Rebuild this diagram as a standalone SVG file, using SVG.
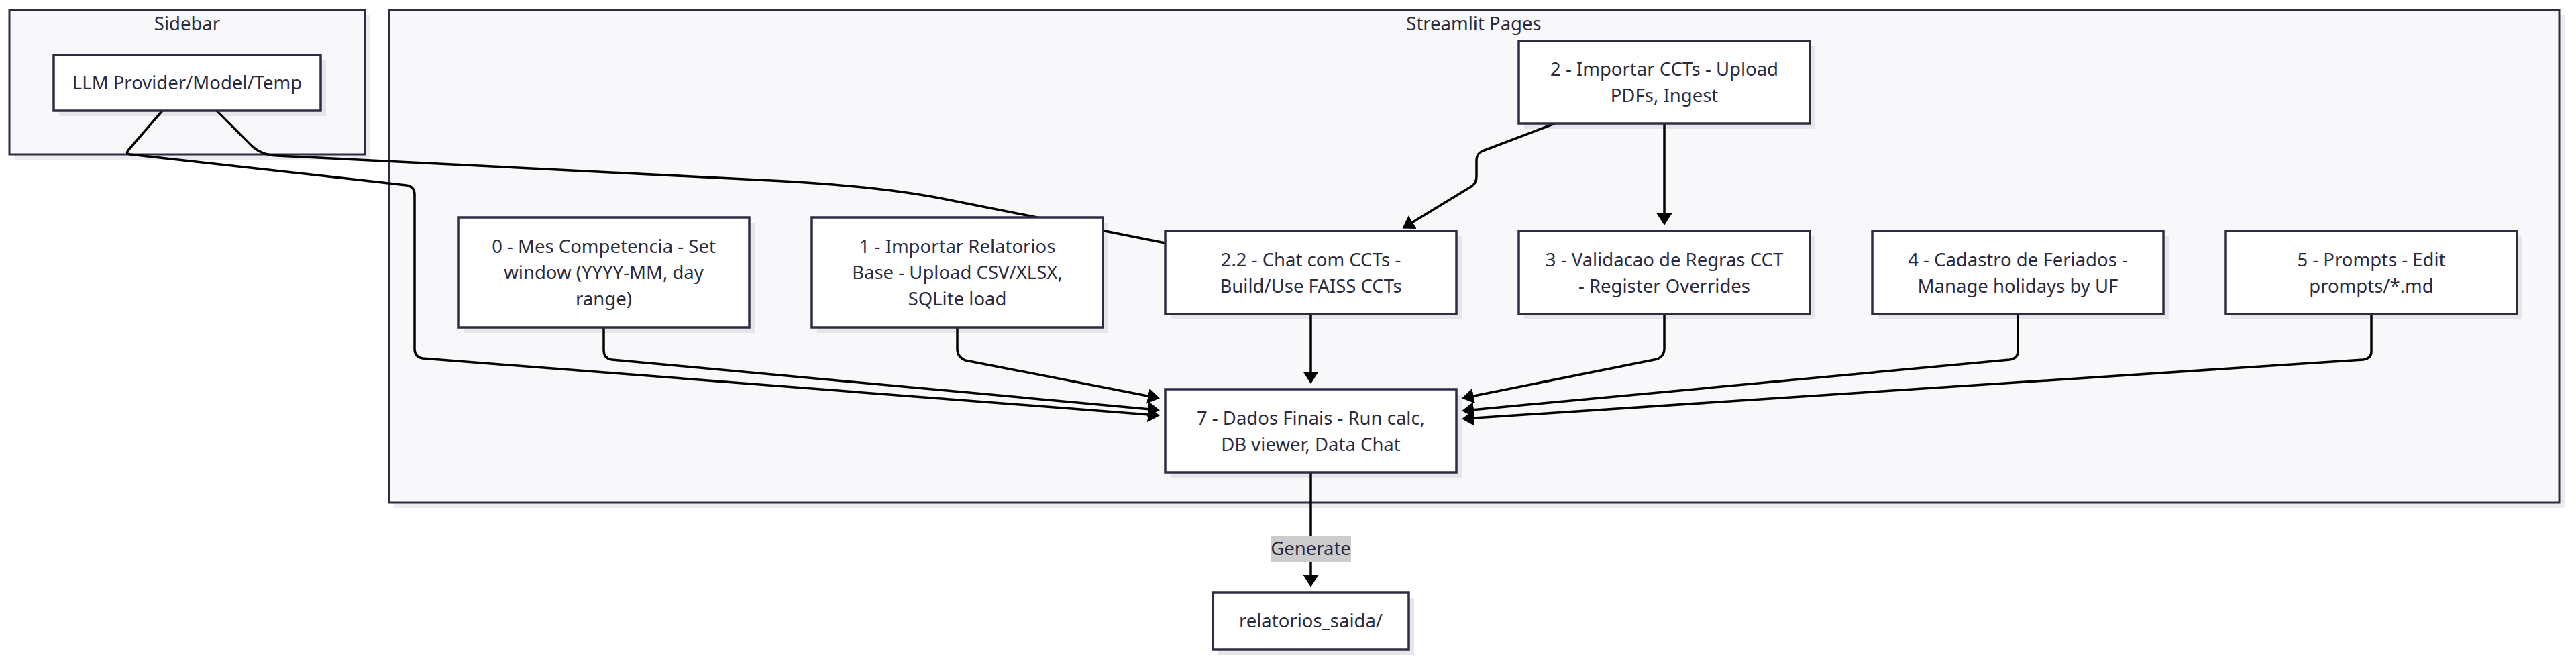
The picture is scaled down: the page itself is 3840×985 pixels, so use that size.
<svg xmlns="http://www.w3.org/2000/svg" width="3840" height="985" viewBox="0 0 3840 985">
<defs>
<marker id="arr" markerUnits="userSpaceOnUse" markerWidth="20" markerHeight="24" refX="15" refY="11.5" orient="auto">
<path d="M0,0 L18,11.5 L0,23 z" fill="#000"/>
</marker>
<style>
.cl{fill:#f8f8fa;stroke:#2d2c43;stroke-width:3}
.csh{fill:#ececef}
.nd{fill:#ffffff;stroke:#2d2c43;stroke-width:3.5}
.sh{fill:#e6e6ea}
.t{font-family:"Noto Sans","Open Sans",sans-serif;font-size:27.5px;fill:#2b2b40;text-anchor:middle}
.e{fill:none;stroke:#000;stroke-width:3.5;stroke-linejoin:round}
.ea{fill:none;stroke:#000;stroke-width:3.5;stroke-linejoin:round;marker-end:url(#arr)}
</style>
</defs>
<rect width="3840" height="985" fill="#ffffff"/>
<g id="cluster-sidebar">
<rect class="csh" x="22" y="23" width="530" height="215"/>
<rect class="cl" x="14" y="15" width="530" height="215"/>
<text class="t" x="279" y="45">Sidebar</text>
</g>
<g id="cluster-streamlit">
<rect class="csh" x="588" y="23" width="3235" height="734"/>
<rect class="cl" x="580" y="15" width="3235" height="734"/>
<text class="t" x="2197" y="45">Streamlit Pages</text>
</g>
<g id="node-shadows">
<rect class="sh" x="88" y="90" width="398" height="83"/>
<rect class="sh" x="2272" y="69" width="434" height="123"/>
<rect class="sh" x="691" y="332" width="434" height="164"/>
<rect class="sh" x="1218" y="332" width="434" height="164"/>
<rect class="sh" x="1745" y="352" width="434" height="124"/>
<rect class="sh" x="2272" y="352" width="434" height="124"/>
<rect class="sh" x="2799" y="352" width="434" height="124"/>
<rect class="sh" x="3326" y="352" width="434" height="124"/>
<rect class="sh" x="1745" y="588" width="434" height="124"/>
<rect class="sh" x="1816" y="891" width="292" height="85"/>
</g>
<g id="connectors">
<path class="ea" d="M242,165 L191,224 Q187,229 194,230 L606,276 Q618,278 618,290 L618,520 Q618,532 630,534 L1726,619"/>
<path class="e" d="M323,165 L373,215 Q388,231 413,232 L1150,269 Q1306,277 1400,295 L1737,362"/>
<path class="ea" d="M900,488 L900,522 Q900,534 912,536 L1726,611"/>
<path class="ea" d="M1427,488 L1427,520 Q1427,532 1439,537 L1726,593"/>
<path class="ea" d="M2318,184 L2210,225 Q2201,229 2201,238 L2201,263 Q2201,273 2193,278 L2093,339"/>
<path class="ea" d="M2481,184 L2481,333"/>
<path class="ea" d="M1954,468 L1954,569"/>
<path class="ea" d="M2481,468 L2481,520 Q2481,530 2471,535 L2182,593"/>
<path class="ea" d="M3008,468 L3008,524 Q3008,534 2996,536 L2182,612"/>
<path class="ea" d="M3535,468 L3535,524 Q3535,534 3523,536 L2182,624"/>
<path class="ea" d="M1954,704 L1954,872"/>
<g id="label-generate">
<rect x="1895" y="798" width="119" height="39" fill="#cccccc"/>
<text class="t" x="1954" y="827">Generate</text>
</g>
</g>
<g id="node-llm">
<rect class="nd" x="80" y="82" width="398" height="83"/>
<text class="t" x="279" y="133">LLM Provider/Model/Temp</text>
</g>
<g id="node-2">
<rect class="nd" x="2264" y="61" width="434" height="123"/>
<text class="t" x="2481" y="113">2 - Importar CCTs - Upload</text>
<text class="t" x="2481" y="152">PDFs, Ingest</text>
</g>
<g id="node-0">
<rect class="nd" x="683" y="324" width="434" height="164"/>
<text class="t" x="900" y="377">0 - Mes Competencia - Set</text>
<text class="t" x="900" y="416">window (YYYY-MM, day</text>
<text class="t" x="900" y="455">range)</text>
</g>
<g id="node-1">
<rect class="nd" x="1210" y="324" width="434" height="164"/>
<text class="t" x="1427" y="377">1 - Importar Relatorios</text>
<text class="t" x="1427" y="416">Base - Upload CSV/XLSX,</text>
<text class="t" x="1427" y="455">SQLite load</text>
</g>
<g id="node-2-2">
<rect class="nd" x="1737" y="344" width="434" height="124"/>
<text class="t" x="1954" y="397">2.2 - Chat com CCTs -</text>
<text class="t" x="1954" y="436">Build/Use FAISS CCTs</text>
</g>
<g id="node-3">
<rect class="nd" x="2264" y="344" width="434" height="124"/>
<text class="t" x="2481" y="397">3 - Validacao de Regras CCT</text>
<text class="t" x="2481" y="436">- Register Overrides</text>
</g>
<g id="node-4">
<rect class="nd" x="2791" y="344" width="434" height="124"/>
<text class="t" x="3008" y="397">4 - Cadastro de Feriados -</text>
<text class="t" x="3008" y="436">Manage holidays by UF</text>
</g>
<g id="node-5">
<rect class="nd" x="3318" y="344" width="434" height="124"/>
<text class="t" x="3535" y="397">5 - Prompts - Edit</text>
<text class="t" x="3535" y="436">prompts/*.md</text>
</g>
<g id="node-7">
<rect class="nd" x="1737" y="580" width="434" height="124"/>
<text class="t" x="1954" y="633">7 - Dados Finais - Run calc,</text>
<text class="t" x="1954" y="672">DB viewer, Data Chat</text>
</g>
<g id="node-saida">
<rect class="nd" x="1808" y="883" width="292" height="85"/>
<text class="t" x="1954" y="935">relatorios_saida/</text>
</g>
</svg>
